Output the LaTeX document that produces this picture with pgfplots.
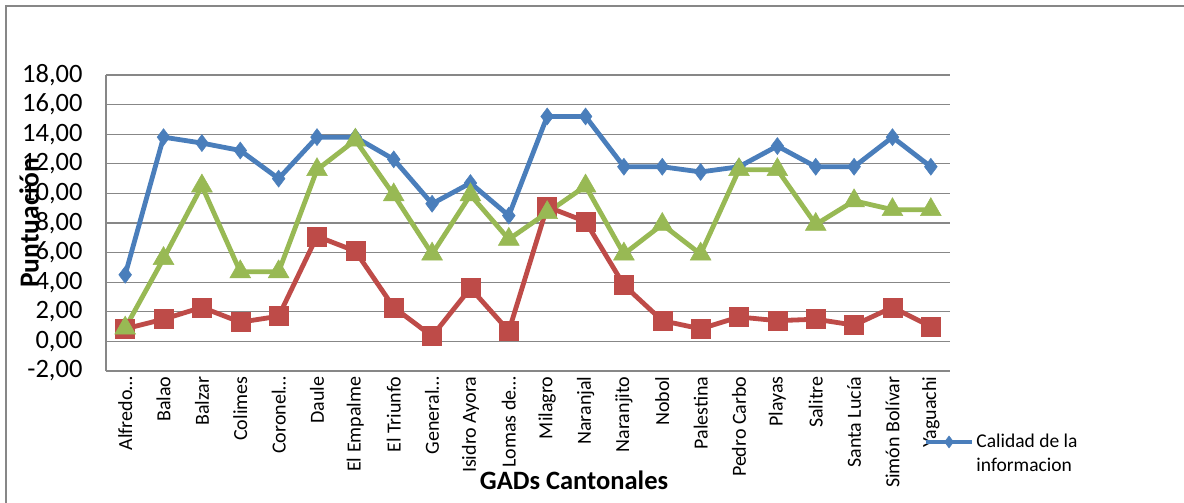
\documentclass[border=0pt]{standalone}
\usepackage{fontspec}
\setmainfont{Carlito}
\usepackage{pgfplots}
\usepackage{pgfplotstable}
\pgfplotsset{compat=1.18}

\definecolor{azul}{HTML}{4A7EBB}
\definecolor{rojo}{HTML}{BE4B48}
\definecolor{verde}{HTML}{98B954}
\definecolor{rejilla}{HTML}{878787}

% puntuaciones por canton (0 = Alfredo Baquerizo ... 21 = Yaguachi)
\pgfplotstableread{
idx calidad rojo verde
0  4.5  0.85 0.9
1  13.8 1.5  5.6
2  13.4 2.3  10.5
3  12.9 1.3  4.7
4  11.0 1.7  4.7
5  13.8 7.1  11.6
6  13.8 6.1  13.6
7  12.3 2.3  9.9
8  9.3  0.35 5.9
9  10.7 3.6  9.9
10 8.5  0.7  6.9
11 15.2 9.1  8.7
12 15.2 8.1  10.5
13 11.8 3.8  5.9
14 11.8 1.4  7.9
15 11.45 0.85 5.9
16 11.8 1.65 11.6
17 13.2 1.4  11.6
18 11.8 1.5  7.9
19 11.8 1.1  9.5
20 13.8 2.3  8.9
21 11.8 1.0  8.9
}\datos

\begin{document}
\begin{tikzpicture}
\useasboundingbox (0pt,0pt) rectangle (1184pt,-503pt);
\fill[white] (0pt,0pt) rectangle (1184pt,-503pt);
\draw[rejilla, line width=1.5pt] (6pt,-503pt) -- (6pt,-6pt) -- (1184pt,-6pt);
\begin{axis}[
    at={(106pt,-371pt)}, anchor=south west,
    scale only axis,
    width=844pt, height=296pt,
    xmin=-0.5, xmax=21.5,
    ymin=-2, ymax=18,
    ytick={-2,0,...,18},
    xtick={0,...,21},
    xticklabels={Alfredo…,Balao,Balzar,Colimes,Coronel…,Daule,El Empalme,El Triunfo,General…,Isidro Ayora,Lomas de…,Milagro,Naranjal,Naranjito,Nobol,Palestina,Pedro Carbo,Playas,Salitre,Santa Lucía,Simón Bolívar,Yaguachi},
    xticklabel style={rotate=90, anchor=east, font=\fontsize{20}{20}\selectfont, xshift=-2pt},
    yticklabel style={/pgf/number format/.cd, fixed, fixed zerofill, precision=2, use comma, assume math mode=true,
        /tikz/.cd, font=\fontsize{26.5}{26.5}\selectfont, xshift=-20pt},
    axis lines*=left,
    axis line style={rejilla, line width=1.3pt},
    ymajorgrids,
    grid style={rejilla, line width=1.3pt},
    tick style={draw=none},
    ylabel={\bfseries Puntuación},
    ylabel style={at={(axis description cs:-0.091,0.5)}, anchor=center, font=\fontsize{27.5}{27.5}\selectfont},
    xlabel={\bfseries GADs Cantonales},
    xlabel style={at={(axis description cs:0.5545,-0.368)}, anchor=center, font=\fontsize{26.5}{26.5}\selectfont},
    legend style={at={(axis description cs:0.965,-0.20)}, anchor=north west, draw=none, fill=none,
        font=\fontsize{19.5}{24}\selectfont},
    legend image code/.code={\draw[mark repeat=2,mark phase=2] plot coordinates {(0pt,0pt) (23pt,0pt) (46pt,0pt)};},
    legend image post style={mark size=6pt},
]
\addplot[azul, line width=4.8pt, mark=diamond*, mark size=8.5pt, mark options={line width=0.5pt}]
    table[x=idx, y=calidad] {\datos};
\addlegendentry{\parbox[t]{4cm}{Calidad de la\\informacion}}
\addplot[rojo, line width=4.8pt, mark=square*, mark size=9.5pt, mark options={line width=0.5pt}, forget plot]
    table[x=idx, y=rojo] {\datos};
\addplot[verde, line width=4.8pt, mark=triangle*, mark size=12pt, mark options={line width=0.5pt}, forget plot]
    table[x=idx, y=verde] {\datos};
\end{axis}
\end{tikzpicture}
\end{document}
